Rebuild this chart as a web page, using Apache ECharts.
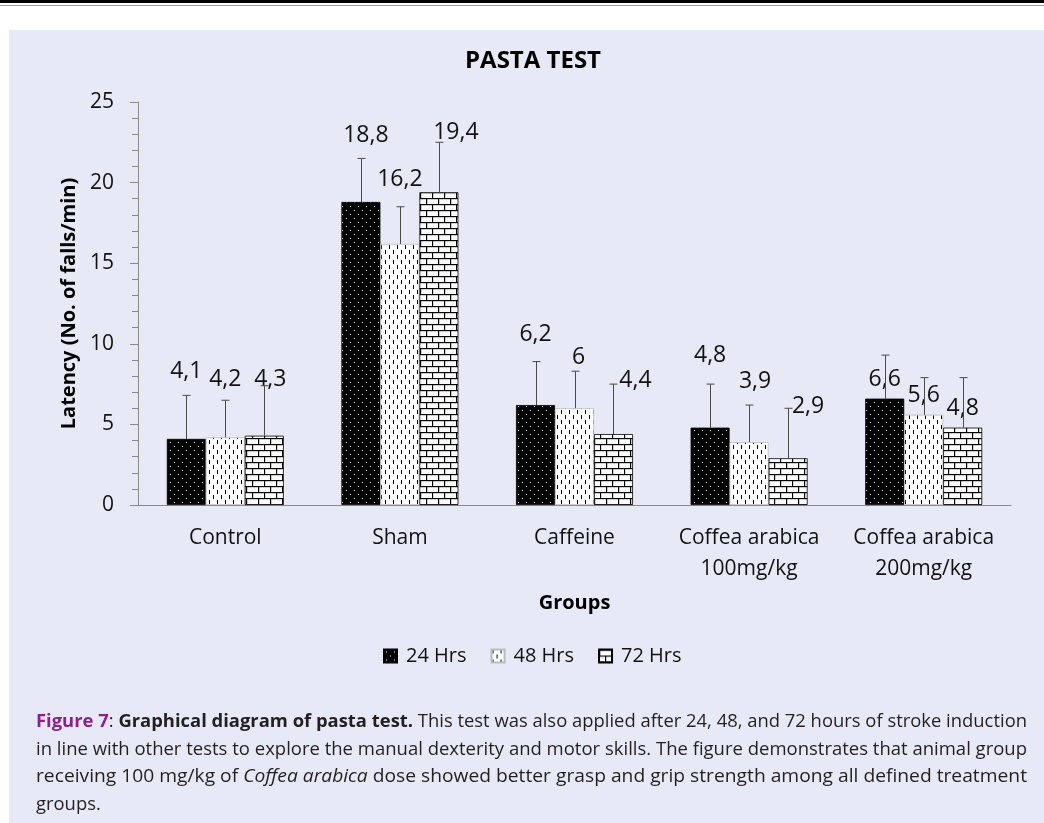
<!DOCTYPE html>
<html>
<head>
<meta charset="utf-8">
<script src="https://cdn.jsdelivr.net/npm/echarts@6/dist/echarts.min.js"></script>
<style>
  html, body { margin: 0; padding: 0; background: #fff; }
  #page { position: relative; width: 1044px; height: 823px; overflow: hidden; background: #fff; }
  #topline { position: absolute; left: 0; top: 0; width: 1044px; height: 3px; background: #000; }
  #topline2 { position: absolute; left: 0; top: 5px; width: 1044px; height: 1px; background: #9a9a9a; }
  #panel { position: absolute; left: 9px; top: 30px; right: 0; bottom: 0; background: #e7eaf6; }
  #chart { position: absolute; left: 0; top: 0; width: 1044px; height: 823px; }
  #caption { position: absolute; left: 36px; top: 707px; font-family: "Open Sans", sans-serif; font-size: 18px; color: #231f20; }
  #caption .ln { display: block; height: 27.5px; line-height: 27.5px; white-space: nowrap; }
  #caption .ln span.t { display: inline-block; transform-origin: left center; }
  #caption .fig { color: #8e1f8c; font-weight: bold; }
</style>
</head>
<body>
<div id="page">
  <div id="topline"></div>
  <div id="topline2"></div>
  <div id="panel"></div>
  <div id="chart"></div>
  <div id="caption">
    <div class="ln"><span class="t"><span class="fig">Figure 7</span>: <b>Graphical diagram of pasta test.</b> This test was also applied after 24, 48, and 72 hours of stroke induction</span></div>
    <div class="ln"><span class="t">in line with other tests to explore the manual dexterity and motor skills. The figure demonstrates that animal group</span></div>
    <div class="ln"><span class="t">receiving 100 mg/kg of <i>Coffea arabica</i> dose showed better grasp and grip strength among all defined treatment</span></div>
    <div class="ln"><span class="t">groups.</span></div>
  </div>
</div>
<script>
// groups on the x axis
var groups = ['Control', 'Sham', 'Caffeine', 'Coffea arabica\n100mg/kg', 'Coffea arabica\n200mg/kg'];
var seriesNames = ['24 Hrs', '48 Hrs', '72 Hrs'];

// mean latency per group
var hrs24 = [4.1, 18.8, 6.2, 4.8, 6.6];
var hrs48 = [4.2, 16.2, 6.0, 3.9, 5.6];
var hrs72 = [4.3, 19.4, 4.4, 2.9, 4.8];

// error bar (plus side only)
var err24 = [2.7, 2.7, 2.7, 2.7, 2.7];
var err48 = [2.3, 2.3, 2.3, 2.3, 2.3];
var err72 = [3.1, 3.1, 3.1, 3.1, 3.1];

var yTicks = [0, 5, 10, 15, 20, 25];

// hand placed data labels in the original: [lift above bar top, dx]
var labelPlace = [
  [[68, 0], [67, 5], [71, 0], [73, 0], [20, 0]],
  [[58, 0], [65, 0], [51, 4], [61, 6], [20, 0]],
  [[57, 6], [60, 17], [54, 22], [52, 20], [20, 0]]
];

var CAT_GAP = 0.33;
var FONT = '"Open Sans", sans-serif';

/* pattern fills */
function makePattern(kind) {
  var c = document.createElement('canvas');
  var ctx = c.getContext('2d');
  if (kind === 'dots') {
    c.width = 8; c.height = 8;
    ctx.fillStyle = '#000'; ctx.fillRect(0, 0, 8, 8);
    ctx.fillStyle = '#fff';
    ctx.fillRect(2, 2, 1, 1);
    ctx.fillRect(6, 6, 1, 1);
  } else if (kind === 'dashes') {
    c.width = 8; c.height = 10;
    ctx.fillStyle = '#fff'; ctx.fillRect(0, 0, 8, 10);
    ctx.fillStyle = '#000';
    ctx.fillRect(1, 0, 1, 4);
    ctx.fillRect(5, 5, 1, 4);
  } else {
    c.width = 12; c.height = 12;
    ctx.fillStyle = '#fff'; ctx.fillRect(0, 0, 12, 12);
    ctx.fillStyle = '#000';
    ctx.fillRect(0, 0, 12, 1.2);
    ctx.fillRect(0, 6, 12, 1.2);
    ctx.fillRect(0, 0, 1.2, 6);
    ctx.fillRect(6, 6, 1.2, 6);
  }
  return { image: c, repeat: 'repeat' };
}

var fills = [makePattern('dots'), makePattern('dashes'), makePattern('bricks')];
var borders = ['#000', '#bbbbbb', '#000'];
var values = [hrs24, hrs48, hrs72];
var errs = [err24, err48, err72];

function fmt(v) {
  return String(v).replace('.', ',');
}

var series = [];
values.forEach(function (vals, s) {
  series.push({
    name: seriesNames[s],
    type: 'bar',
    barGap: 0,
    barCategoryGap: (CAT_GAP * 100) + '%',
    z: 2,
    itemStyle: { color: fills[s], borderColor: borders[s], borderWidth: 0.8 },
    label: {
      show: true,
      position: 'top',
      color: '#111',
      fontFamily: FONT,
      fontSize: 23,
      formatter: function (p) { return fmt(p.value); }
    },
    data: vals.map(function (v, i) {
      var pl = labelPlace[s][i];
      return { value: v, label: { distance: pl[0] - 12, offset: [pl[1], 0] } };
    })
  });
});

// error bars drawn with a custom series
values.forEach(function (vals, s) {
  series.push({
    name: seriesNames[s] + ' err',
    type: 'custom',
    z: 3,
    silent: true,
    data: vals.map(function (v, i) { return [i, v, v + errs[s][i]]; }),
    renderItem: function (params, api) {
      var idx = api.value(0);
      var base = api.coord([idx, api.value(1)]);
      var top = api.coord([idx, api.value(2)]);
      var band = api.size([1, 0])[0];
      var bw = band * (1 - CAT_GAP) / 3;
      var x = Math.round(base[0] + (s - 1) * bw) + 0.5;
      var st = { stroke: '#4a4a4a', lineWidth: 1 };
      return {
        type: 'group',
        children: [
          { type: 'line', shape: { x1: x, y1: base[1], x2: x, y2: top[1] }, style: st },
          { type: 'line', shape: { x1: x - 4, y1: top[1], x2: x + 4, y2: top[1] }, style: st }
        ]
      };
    }
  });
});

var option = {
  backgroundColor: 'transparent',
  animation: false,
  textStyle: { fontFamily: FONT },
  title: {
    text: 'PASTA TEST',
    left: 460,
    top: 44,
    textStyle: { fontFamily: FONT, fontSize: 24, fontWeight: 'bold', color: '#000' }
  },
  legend: {
    data: seriesNames,
    left: 383,
    top: 646,
    padding: 0,
    itemWidth: 13,
    itemHeight: 13,
    itemGap: 24,
    icon: 'rect',
    textStyle: { fontFamily: FONT, fontSize: 20, color: '#111', padding: [0, 0, 0, 4] }
  },
  grid: { left: 138, right: 33, top: 102, bottom: 318, containLabel: false },
  xAxis: {
    type: 'category',
    data: groups,
    name: 'Groups',
    nameLocation: 'middle',
    nameGap: 88,
    nameTextStyle: { fontFamily: FONT, fontSize: 20, fontWeight: 'bold', color: '#000' },
    axisLine: { lineStyle: { color: '#8a8a8a', width: 1 } },
    axisTick: { show: false },
    axisLabel: { fontFamily: FONT, fontSize: 21, color: '#111', margin: 18, lineHeight: 31, interval: 0 },
    splitLine: { show: false }
  },
  yAxis: {
    type: 'value',
    min: yTicks[0],
    max: yTicks[yTicks.length - 1],
    interval: 5,
    name: 'Latency (No. of falls/min)',
    nameLocation: 'middle',
    nameGap: 56,
    nameTextStyle: { fontFamily: FONT, fontSize: 20, fontWeight: 'bold', color: '#000' },
    axisLine: { show: true, lineStyle: { color: '#8a8a8a', width: 1 } },
    axisTick: { show: true, inside: false, length: 8, lineStyle: { color: '#8a8a8a' } },
    minorTick: { show: true, splitNumber: 5, length: 6, lineStyle: { color: '#8a8a8a' } },
    axisLabel: { fontFamily: FONT, fontSize: 21, color: '#111', margin: 24 },
    splitLine: { show: false }
  },
  series: series
};

var chart = echarts.init(document.getElementById('chart'), null, { renderer: 'canvas' });
chart.setOption(option);

// justify the caption lines to the column width
(function () {
  var target = 991;
  var spans = document.querySelectorAll('#caption .ln span.t');
  var first = target / spans[0].getBoundingClientRect().width;
  spans.forEach(function (sp, i) {
    var k = i < 3 ? target / sp.getBoundingClientRect().width : first;
    sp.style.transform = 'scaleX(' + k + ')';
  });
})();
</script>
</body>
</html>
